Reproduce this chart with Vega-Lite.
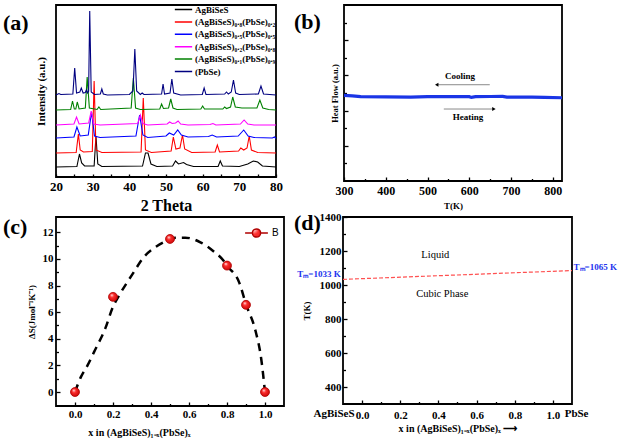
{
"$schema":"https://vega.github.io/schema/vega-lite/v6.json",
"background":"white",
"padding":{"left":2,"top":4,"right":0,"bottom":0},
"config":{
 "font":"Liberation Serif",
 "view":{"stroke":"#000","strokeWidth":1.8},
 "axis":{"domain":false,"grid":false,"tickColor":"#000","tickWidth":1.3,"labelColor":"#000","titleColor":"#000","labelFont":"Liberation Serif","titleFont":"Liberation Serif","labelFontWeight":"bold","titleFontWeight":"bold","labelFlush":false,"labelOverlap":false},
 "text":{"font":"Liberation Serif","color":"#000"},
 "title":{"font":"Liberation Serif","fontSize":22,"fontWeight":"bold","anchor":"start","frame":"group","offset":0,"baseline":"top","color":"#000"}
},
"datasets":{
 "xrd":[
  {"s":"k","x":20,"y":10},{"s":"k","x":25.7,"y":10.5},{"s":"k","x":26.4,"y":23},{"s":"k","x":27.0,"y":14},{"s":"k","x":27.8,"y":11},{"s":"k","x":30.4,"y":11},{"s":"k","x":30.9,"y":41},{"s":"k","x":31.4,"y":13},{"s":"k","x":32.5,"y":10.5},{"s":"k","x":43.6,"y":11},{"s":"k","x":44.4,"y":24},{"s":"k","x":45.1,"y":24},{"s":"k","x":45.9,"y":13},{"s":"k","x":47.5,"y":10.5},{"s":"k","x":51.8,"y":11},{"s":"k","x":52.6,"y":16},{"s":"k","x":53.4,"y":13},{"s":"k","x":54.8,"y":14.5},{"s":"k","x":55.6,"y":12.5},{"s":"k","x":57.5,"y":10.5},{"s":"k","x":64.2,"y":10.5},{"s":"k","x":64.8,"y":16},{"s":"k","x":65.4,"y":11},{"s":"k","x":70,"y":10.5},{"s":"k","x":72.3,"y":13},{"s":"k","x":73.8,"y":16},{"s":"k","x":75.0,"y":15},{"s":"k","x":76.3,"y":11},{"s":"k","x":80,"y":10},
  {"s":"r","x":20,"y":24},{"s":"r","x":25.5,"y":24.5},{"s":"r","x":26.1,"y":43},{"s":"r","x":26.6,"y":27},{"s":"r","x":27.5,"y":25},{"s":"r","x":29.9,"y":25.5},{"s":"r","x":30.4,"y":96},{"s":"r","x":30.9,"y":27},{"s":"r","x":32.5,"y":24.5},{"s":"r","x":43.2,"y":25},{"s":"r","x":43.8,"y":79},{"s":"r","x":44.4,"y":27},{"s":"r","x":46,"y":24.5},{"s":"r","x":51.4,"y":26},{"s":"r","x":52.0,"y":40},{"s":"r","x":52.7,"y":28},{"s":"r","x":53.8,"y":29},{"s":"r","x":54.5,"y":42},{"s":"r","x":55.1,"y":28},{"s":"r","x":57,"y":24.5},{"s":"r","x":63.4,"y":25},{"s":"r","x":64,"y":32},{"s":"r","x":64.6,"y":25},{"s":"r","x":69.8,"y":26},{"s":"r","x":70.4,"y":29},{"s":"r","x":71.2,"y":27},{"s":"r","x":72.1,"y":29},{"s":"r","x":72.7,"y":41},{"s":"r","x":73.3,"y":27},{"s":"r","x":75,"y":24.5},{"s":"r","x":80,"y":24},
  {"s":"b","x":20,"y":39},{"s":"b","x":24.9,"y":40},{"s":"b","x":25.7,"y":50},{"s":"b","x":26.6,"y":41},{"s":"b","x":28.8,"y":42},{"s":"b","x":29.7,"y":65},{"s":"b","x":30.5,"y":41},{"s":"b","x":32,"y":39.5},{"s":"b","x":41.8,"y":41},{"s":"b","x":42.8,"y":62},{"s":"b","x":43.7,"y":42},{"s":"b","x":45,"y":39.5},{"s":"b","x":50,"y":41},{"s":"b","x":50.9,"y":44},{"s":"b","x":52.1,"y":42},{"s":"b","x":53.2,"y":47},{"s":"b","x":54.2,"y":42},{"s":"b","x":56,"y":40},{"s":"b","x":61.6,"y":40.5},{"s":"b","x":62.6,"y":42},{"s":"b","x":63.8,"y":40},{"s":"b","x":69.7,"y":41},{"s":"b","x":71.2,"y":47},{"s":"b","x":72.4,"y":41},{"s":"b","x":74,"y":39.5},{"s":"b","x":79,"y":39},{"s":"b","x":79.6,"y":40},{"s":"b","x":80,"y":38.5},
  {"s":"m","x":20,"y":52},{"s":"m","x":24.9,"y":53},{"s":"m","x":25.6,"y":60},{"s":"m","x":26.3,"y":53},{"s":"m","x":28.9,"y":54},{"s":"m","x":29.6,"y":66},{"s":"m","x":30.3,"y":53},{"s":"m","x":32,"y":52},{"s":"m","x":42.3,"y":53.5},{"s":"m","x":43,"y":62},{"s":"m","x":43.7,"y":53.5},{"s":"m","x":45,"y":52},{"s":"m","x":50.3,"y":53},{"s":"m","x":51,"y":55},{"s":"m","x":51.7,"y":53.5},{"s":"m","x":52.6,"y":54},{"s":"m","x":53.3,"y":56},{"s":"m","x":54,"y":53},{"s":"m","x":56,"y":52},{"s":"m","x":62,"y":52.5},{"s":"m","x":62.8,"y":53.5},{"s":"m","x":63.6,"y":52},{"s":"m","x":70.3,"y":53},{"s":"m","x":71.3,"y":57},{"s":"m","x":72.3,"y":53},{"s":"m","x":74,"y":52},{"s":"m","x":80,"y":52},
  {"s":"g","x":20,"y":67},{"s":"g","x":24.0,"y":67.5},{"s":"g","x":24.5,"y":76},{"s":"g","x":25.0,"y":68},{"s":"g","x":25.4,"y":68},{"s":"g","x":25.8,"y":75},{"s":"g","x":26.3,"y":68},{"s":"g","x":28.0,"y":69},{"s":"g","x":28.5,"y":100},{"s":"g","x":29.1,"y":69},{"s":"g","x":31.2,"y":67.5},{"s":"g","x":31.7,"y":70},{"s":"g","x":32.2,"y":67.5},{"s":"g","x":40.5,"y":69},{"s":"g","x":41.1,"y":99},{"s":"g","x":41.7,"y":69},{"s":"g","x":43,"y":67.5},{"s":"g","x":48.3,"y":68},{"s":"g","x":48.8,"y":73},{"s":"g","x":49.3,"y":68.5},{"s":"g","x":50.7,"y":69},{"s":"g","x":51.3,"y":78},{"s":"g","x":51.9,"y":69},{"s":"g","x":53,"y":67.5},{"s":"g","x":59.5,"y":68},{"s":"g","x":60,"y":71},{"s":"g","x":60.5,"y":68},{"s":"g","x":65.5,"y":68},{"s":"g","x":66,"y":70},{"s":"g","x":66.5,"y":68.5},{"s":"g","x":67.6,"y":70},{"s":"g","x":68.2,"y":80},{"s":"g","x":68.9,"y":70},{"s":"g","x":70.7,"y":69},{"s":"g","x":74.8,"y":69},{"s":"g","x":75.6,"y":77},{"s":"g","x":76.4,"y":69},{"s":"g","x":78,"y":67.5},{"s":"g","x":80,"y":67},
  {"s":"n","x":20,"y":82},{"s":"n","x":20.8,"y":83.5},{"s":"n","x":21.3,"y":82.5},{"s":"n","x":24.6,"y":83},{"s":"n","x":25.1,"y":109},{"s":"n","x":25.6,"y":84},{"s":"n","x":26.5,"y":85},{"s":"n","x":26.9,"y":89},{"s":"n","x":27.4,"y":84},{"s":"n","x":28.0,"y":84.5},{"s":"n","x":28.3,"y":87},{"s":"n","x":28.6,"y":84},{"s":"n","x":28.9,"y":86},{"s":"n","x":29.2,"y":166},{"s":"n","x":29.6,"y":85},{"s":"n","x":30.5,"y":82.5},{"s":"n","x":32.1,"y":83},{"s":"n","x":32.5,"y":88},{"s":"n","x":32.9,"y":83},{"s":"n","x":34,"y":82},{"s":"n","x":40,"y":82.5},{"s":"n","x":41,"y":86},{"s":"n","x":41.5,"y":128},{"s":"n","x":42,"y":86},{"s":"n","x":43,"y":82.5},{"s":"n","x":43.5,"y":84},{"s":"n","x":44,"y":82.5},{"s":"n","x":48.8,"y":83},{"s":"n","x":49.2,"y":93},{"s":"n","x":49.6,"y":83},{"s":"n","x":51.1,"y":84},{"s":"n","x":51.6,"y":98},{"s":"n","x":52.1,"y":84},{"s":"n","x":54,"y":82},{"s":"n","x":59.9,"y":82.5},{"s":"n","x":60.4,"y":89},{"s":"n","x":60.9,"y":82.5},{"s":"n","x":66,"y":83},{"s":"n","x":66.5,"y":85},{"s":"n","x":67,"y":83},{"s":"n","x":67.8,"y":85},{"s":"n","x":68.4,"y":97},{"s":"n","x":69,"y":84},{"s":"n","x":70,"y":82.5},{"s":"n","x":75.2,"y":83},{"s":"n","x":75.9,"y":91},{"s":"n","x":76.6,"y":83},{"s":"n","x":80,"y":82}
 ],
 "dsc":[{"x":300,"y":4.86},{"x":320,"y":4.84},{"x":340,"y":4.79},{"x":400,"y":4.78},{"x":460,"y":4.77},{"x":500,"y":4.79},{"x":560,"y":4.79},{"x":600,"y":4.79},{"x":605,"y":4.75},{"x":615,"y":4.79},{"x":650,"y":4.8},{"x":680,"y":4.81},{"x":690,"y":4.77},{"x":750,"y":4.76},{"x":780,"y":4.75},{"x":822,"y":4.73}],
 "arrows":[{"x":649,"x2":524,"y":5.47},{"x":539,"x2":657,"y":4.09}],
 "heads":[{"x":522,"y":5.47,"d":"l"},{"x":659,"y":4.09,"d":"r"}],
 "dsclab":[{"x":578,"y":5.97,"t":"Cooling"},{"x":597,"y":3.64,"t":"Heating"}],
 "curve":[{"x":0,"y":0},{"x":0.03,"y":1.1},{"x":0.066,"y":2.0},{"x":0.1,"y":3.0},{"x":0.16,"y":4.8},{"x":0.2,"y":6.4},{"x":0.23,"y":7.2},{"x":0.3,"y":8.8},{"x":0.366,"y":10.2},{"x":0.43,"y":10.95},{"x":0.5,"y":11.45},{"x":0.53,"y":11.6},{"x":0.58,"y":11.6},{"x":0.66,"y":11.25},{"x":0.727,"y":10.6},{"x":0.78,"y":9.9},{"x":0.8,"y":9.5},{"x":0.865,"y":8.2},{"x":0.9,"y":6.6},{"x":0.95,"y":4.6},{"x":0.98,"y":2.5},{"x":1.0,"y":0}],
 "pts":[{"x":0,"y":0},{"x":0.2,"y":7.15},{"x":0.5,"y":11.5},{"x":0.8,"y":9.5},{"x":0.9,"y":6.55},{"x":1.0,"y":0}],
 "tline":[{"x":-0.1,"y":1033},{"x":1.1,"y":1085}],
 "phase":[{"x":0.384,"y":1175,"t":"Liquid"},{"x":0.42,"y":945,"t":"Cubic Phase"}],
 "tmL":[{"x":-0.112,"y":1062,"t":"Tₘ=1033 K"}],
 "tmR":[{"x":1.108,"y":1106,"t":"Tₘ=1065 K"}],
 "ends":[{"x":-0.147,"y":241,"t":"AgBiSeS"},{"x":1.124,"y":241,"t":"PbSe"}]
},
"spacing":-4,
"vconcat":[
 {"bounds":"flush","spacing":68,"hconcat":[
  {"width":220,"height":172,
   "title":{"text":"(a)","dx":-53,"dy":34},
   "data":{"name":"xrd"},
   "mark":{"type":"line","strokeWidth":1.1},
   "encoding":{
    "x":{"field":"x","type":"quantitative","scale":{"domain":[20,80],"nice":false,"zero":false},
     "axis":{"values":[20,25,30,35,40,45,50,55,60,65,70,75,80],"tickCount":100,"format":"d","labelExpr":"datum.value % 10 === 0 ? datum.label : ''","tickSize":-3,"labelPadding":6,"labelFontSize":13,"labelOverlap":false,"title":"2 Theta","titleFontSize":16,"titlePadding":4}},
    "y":{"field":"y","type":"quantitative","scale":{"domain":[0,172],"nice":false,"zero":false},
     "axis":{"ticks":false,"labels":false,"title":"Intensity (a.u.)","titleFontSize":11,"titlePadding":10}},
    "color":{"field":"s","type":"nominal","scale":{"domain":["k","r","b","m","g","n"],"range":["#000000","#ff0000","#0000ff","#ff00ff","#008000","#000080"]},
     "legend":{"title":null,"orient":"none","legendX":118,"legendY":0,"padding":0,"labelFont":"Liberation Serif","labelFontSize":9,"labelFontWeight":"bold","labelColor":"#000","symbolType":"stroke","symbolSize":300,"symbolStrokeWidth":1.5,"clipHeight":9,"rowPadding":2.4,"labelOffset":2,
      "labelExpr":"datum.label == 'k' ? 'AgBiSeS' : datum.label == 'r' ? '(AgBiSeS)₀.₈(PbSe)₀.₂' : datum.label == 'b' ? '(AgBiSeS)₀.₅(PbSe)₀.₅' : datum.label == 'm' ? '(AgBiSeS)₀.₂(PbSe)₀.₈' : datum.label == 'g' ? '(AgBiSeS)₀.₁(PbSe)₀.₉' : '(PbSe)'"}}
   }
  },
  {"width":218,"height":176,
   "title":{"text":"(b)","dx":-50,"dy":33},
   "layer":[
    {"data":{"name":"dsc"},"mark":{"type":"line","color":"#1a35e6","strokeWidth":3.2},
     "encoding":{
      "x":{"field":"x","type":"quantitative","scale":{"domain":[300,822],"nice":false,"zero":false},
       "axis":{"values":[300,350,400,450,500,550,600,650,700,750,800],"tickCount":100,"format":"d","labelExpr":"datum.value % 100 === 0 ? datum.label : ''","tickSize":{"condition":{"test":"datum.value % 100 === 0","value":-4},"value":-2.5},"labelPadding":8,"labelFontSize":12,"labelOverlap":false,"title":"T(K)","titleFontSize":9,"titlePadding":4}},
      "y":{"field":"y","type":"quantitative","scale":{"domain":[0,10],"nice":false,"zero":false},
       "axis":{"values":[1,2,3,4,5,6,7,8,9],"tickCount":100,"labels":false,"tickSize":{"condition":{"test":"datum.value % 2 === 0","value":-4},"value":-2.5},"title":"Heat Flow (a.u.)","titleFontSize":8.5,"titlePadding":4}}
     }},
    {"data":{"name":"arrows"},"mark":{"type":"rule","color":"#8a8a8a","strokeWidth":1},
     "encoding":{"x":{"field":"x","type":"quantitative"},"x2":{"field":"x2"},"y":{"field":"y","type":"quantitative"}}},
    {"data":{"name":"heads"},"mark":{"type":"point","filled":true,"color":"#000","size":16,"opacity":1},
     "encoding":{"x":{"field":"x","type":"quantitative"},"y":{"field":"y","type":"quantitative"},
      "shape":{"field":"d","type":"nominal","scale":{"domain":["l","r"],"range":["triangle-left","triangle-right"]},"legend":null}}},
    {"data":{"name":"dsclab"},"mark":{"type":"text","fontWeight":"bold","fontSize":9},
     "encoding":{"x":{"field":"x","type":"quantitative"},"y":{"field":"y","type":"quantitative"},"text":{"field":"t"}}}
   ]
  }
 ]},
 {"bounds":"flush","spacing":59,"hconcat":[
  {"width":228,"height":189,
   "title":{"text":"(c)","dx":-53,"dy":26},
   "layer":[
    {"data":{"name":"curve"},"mark":{"type":"line","color":"#000","strokeWidth":2.5,"strokeDash":[8,6],"interpolate":"monotone"},
     "encoding":{
      "x":{"field":"x","type":"quantitative","scale":{"domain":[-0.1,1.1],"nice":false,"zero":false},
       "axis":{"values":[0,0.1,0.2,0.3,0.4,0.5,0.6,0.7,0.8,0.9,1.0],"tickCount":100,"format":".1f","labelExpr":"round(datum.value*10) % 2 === 0 ? datum.label : ''","tickSize":{"condition":{"test":"round(datum.value*10) % 2 === 0","value":-4},"value":-2.5},"labelPadding":6,"labelFontSize":11,"labelOverlap":false,"title":"x in (AgBiSeS)₁₋ₓ(PbSe)ₓ","titleFontSize":10,"titlePadding":7,"titleX":83}},
      "y":{"field":"y","type":"quantitative","scale":{"domain":[-1.05,13.15],"nice":false,"zero":false},
       "axis":{"values":[0,1,2,3,4,5,6,7,8,9,10,11,12],"tickCount":100,"format":"d","labelExpr":"datum.value % 2 === 0 ? datum.label : ''","tickSize":{"condition":{"test":"datum.value % 2 === 0","value":-4},"value":-2.5},"labelPadding":7,"labelFontSize":11,"labelOverlap":false,"title":"ΔS(Jmol⁻¹K⁻¹)","titleFontSize":9,"titlePadding":6}}
     }},
    {"data":{"name":"pts"},
     "mark":{"type":"point","filled":true,"size":80,"opacity":1,"strokeWidth":0.8,
      "fill":{"gradient":"radial","x1":0.35,"y1":0.3,"r1":0.02,"x2":0.5,"y2":0.5,"r2":0.6,"stops":[{"offset":0,"color":"#ffffff"},{"offset":0.3,"color":"#ff3030"},{"offset":1,"color":"#c00000"}]}},
     "encoding":{"x":{"field":"x","type":"quantitative"},"y":{"field":"y","type":"quantitative"},
      "stroke":{"datum":"B","scale":{"range":["#b00000"]},
       "legend":{"title":null,"orient":"none","legendX":188,"legendY":215.5,"padding":0,"labelFont":"Liberation Sans","labelFontSize":10,"labelFontWeight":"normal","labelColor":"#000","labelOffset":3,
        "symbolType":"M-1,0L-0.36,0M0.36,0L1,0M-0.36,0A0.36,0.36 0 1,0 0.36,0A0.36,0.36 0 1,0 -0.36,0Z","symbolSize":520,
        "encode":{"symbols":{"update":{"stroke":{"value":"#000"},"strokeWidth":{"value":1.6},"fill":{"value":"#ff2020"},"opacity":{"value":1}}}}}}}}
   ]
  },
  {"width":229,"height":187,
   "title":{"text":"(d)","dx":-49,"dy":28},
   "layer":[
    {"data":{"name":"tline"},"mark":{"type":"line","color":"#ff5050","strokeWidth":1.2,"strokeDash":[4,2]},
     "encoding":{
      "x":{"field":"x","type":"quantitative","scale":{"domain":[-0.1,1.1],"nice":false,"zero":false},
       "axis":{"values":[0,0.1,0.2,0.3,0.4,0.5,0.6,0.7,0.8,0.9,1.0],"tickCount":100,"format":".1f","labelExpr":"round(datum.value*10) % 2 === 0 ? datum.label : ''","tickSize":{"condition":{"test":"round(datum.value*10) % 2 === 0","value":-4},"value":-2.5},"labelPadding":9,"labelFontSize":11,"labelOverlap":false,"title":"x in (AgBiSeS)₁₋ₓ(PbSe)ₓ ⟶","titleFontSize":10,"titlePadding":2}},
      "y":{"field":"y","type":"quantitative","scale":{"domain":[300,1400],"nice":false,"zero":false},
       "axis":{"values":[400,500,600,700,800,900,1000,1100,1200,1300,1400],"tickCount":100,"format":"d","labelExpr":"datum.value % 200 === 0 ? datum.label : ''","tickSize":{"condition":{"test":"datum.value % 200 === 0","value":-4},"value":-2.5},"labelPadding":6,"labelFontSize":11,"labelOverlap":false,"title":"T(K)","titleFontSize":9,"titlePadding":8}}
     }},
    {"data":{"name":"phase"},"mark":{"type":"text","fontSize":10.5,"fontWeight":"normal"},
     "encoding":{"x":{"field":"x","type":"quantitative"},"y":{"field":"y","type":"quantitative"},"text":{"field":"t"}}},
    {"data":{"name":"tmL"},"mark":{"type":"text","fontSize":9,"fontWeight":"bold","color":"#2233ee","align":"right"},
     "encoding":{"x":{"field":"x","type":"quantitative"},"y":{"field":"y","type":"quantitative"},"text":{"field":"t"}}},
    {"data":{"name":"tmR"},"mark":{"type":"text","fontSize":9,"fontWeight":"bold","color":"#2233ee","align":"left"},
     "encoding":{"x":{"field":"x","type":"quantitative"},"y":{"field":"y","type":"quantitative"},"text":{"field":"t"}}},
    {"data":{"name":"ends"},"mark":{"type":"text","fontSize":11,"fontWeight":"bold"},
     "encoding":{"x":{"field":"x","type":"quantitative"},"y":{"field":"y","type":"quantitative"},"text":{"field":"t"}}}
   ]
  }
 ]}
]
}
